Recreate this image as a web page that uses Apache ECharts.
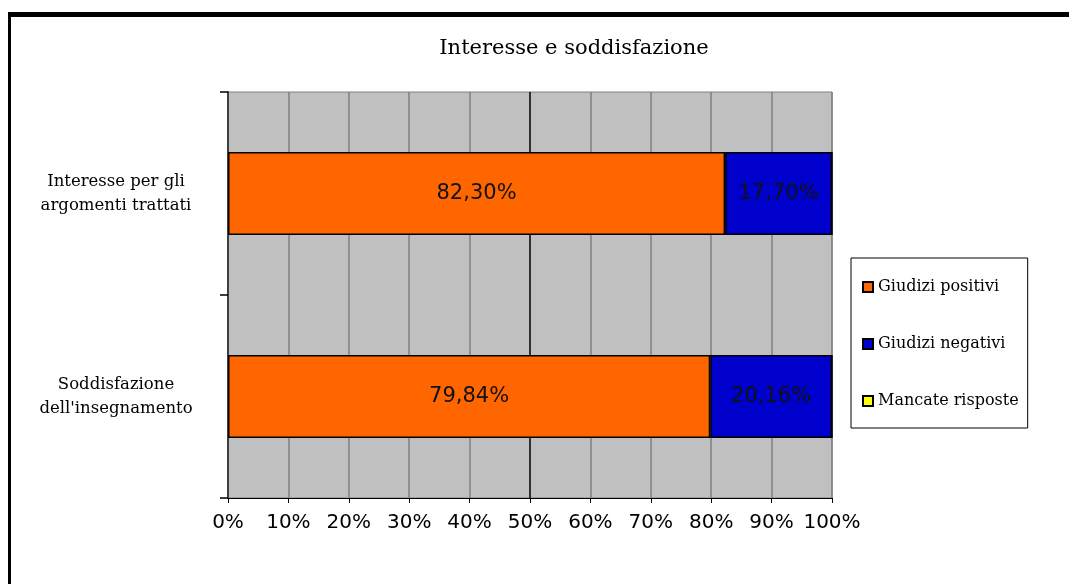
<!DOCTYPE html>
<html>
<head>
<meta charset="utf-8">
<script src="https://cdn.jsdelivr.net/npm/echarts@6/dist/echarts.min.js"></script>
<style>
html,body{margin:0;padding:0;background:#fff;}
#chart{width:1069px;height:584px;}
</style>
</head>
<body>
<div id="chart"></div>
<script>
// Data
const titleText = 'Interesse e soddisfazione';
const categories = ["Soddisfazione\ndell'insegnamento", "Interesse per gli\nargomenti trattati"];
const seriesNames = ['Giudizi positivi', 'Giudizi negativi', 'Mancate risposte'];
const positivi = [79.84, 82.30];
const negativi = [20.16, 17.70];
const mancate = [0, 0];
const xTicks = [0, 10, 20, 30, 40, 50, 60, 70, 80, 90, 100];

const chart = echarts.init(document.getElementById('chart'));
const fmt = p => p.value.toFixed(2).replace('.', ',') + '%';
const gridLineColors = xTicks.map(v => v === 50 ? '#000000' : '#808080');

const valueLabel = {
  show: true, position: 'inside', formatter: fmt,
  fontFamily: 'DejaVu Sans', fontSize: 21, color: '#111'
};
const barBorder = { borderColor: '#000', borderWidth: 1.5 };

chart.setOption({
  animation: false,
  backgroundColor: '#fff',
  title: {
    text: titleText, left: 569, top: 33, textAlign: 'center',
    textStyle: { fontFamily: 'DejaVu Serif', fontSize: 21, fontWeight: 'normal', color: '#000' }
  },
  graphic: [
    { type: 'rect', shape: { x: 8, y: 12, width: 1061, height: 5 }, style: { fill: '#000' } },
    { type: 'rect', shape: { x: 8, y: 12, width: 3, height: 572 }, style: { fill: '#000' } }
  ],
  legend: {
    orient: 'vertical', left: 851, top: 258,
    padding: [21, 9, 19, 11], itemGap: 41,
    itemWidth: 10, itemHeight: 10, icon: 'rect',
    backgroundColor: '#fff', borderColor: '#000', borderWidth: 1,
    textStyle: { fontFamily: 'DejaVu Serif', fontSize: 16, color: '#000', padding: [0, 0, 0, 0] },
    data: seriesNames
  },
  grid: {
    left: 228, right: 237, top: 92, bottom: 86,
    show: true, backgroundColor: '#c0c0c0', borderColor: '#808080', borderWidth: 1
  },
  xAxis: {
    type: 'value', min: 0, max: 100, interval: 10,
    axisLine: { show: true, lineStyle: { color: '#000', width: 1 } },
    axisTick: { show: true, length: 5, lineStyle: { color: '#000' } },
    axisLabel: { formatter: '{value}%', fontFamily: 'DejaVu Sans', fontSize: 20, color: '#000', margin: 15 },
    splitLine: { show: true, lineStyle: { color: gridLineColors, width: 1.5 } }
  },
  yAxis: {
    type: 'category', data: categories,
    axisLine: { show: true, lineStyle: { color: '#404040', width: 2 } },
    axisTick: { show: true, length: 8, lineStyle: { color: '#000', width: 1.5 } },
    axisLabel: {
      fontFamily: 'DejaVu Serif', fontSize: 16.5, color: '#000',
      align: 'center', margin: 112, lineHeight: 24
    },
    splitLine: { show: false }
  },
  series: [
    { name: seriesNames[0], type: 'bar', stack: 'tot', data: positivi, barWidth: 83,
      itemStyle: Object.assign({ color: '#ff6600' }, barBorder), label: valueLabel },
    { name: seriesNames[1], type: 'bar', stack: 'tot', data: negativi, barWidth: 83,
      itemStyle: Object.assign({ color: '#0000cc' }, barBorder), label: valueLabel },
    { name: seriesNames[2], type: 'bar', stack: 'tot', data: mancate, barWidth: 83,
      itemStyle: Object.assign({ color: '#ffff00' }, barBorder), label: { show: false } }
  ]
});
</script>
</body>
</html>
